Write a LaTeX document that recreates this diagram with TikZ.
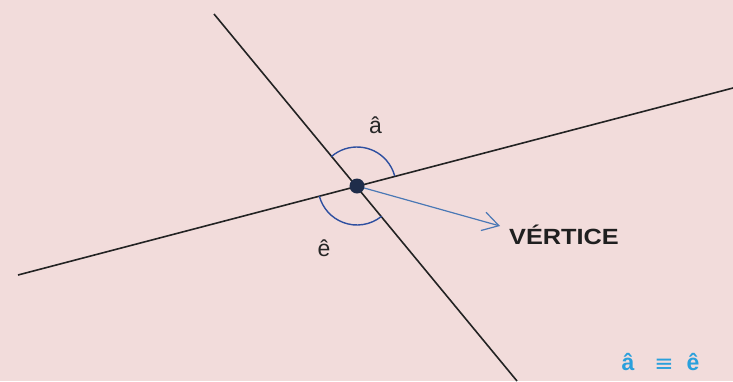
\documentclass[tikz,border=0pt]{standalone}
\usepackage{fontspec}
\setmainfont{Liberation Sans}
\newfontfamily\symfont{DejaVu Sans}
\usetikzlibrary{arrows.meta}
\definecolor{bgpink}{HTML}{F2DCDB}
\definecolor{linegray}{HTML}{232323}
\definecolor{arcblue}{HTML}{2E4FA0}
\definecolor{arrowblue}{HTML}{4A78B5}
\definecolor{dotnavy}{HTML}{1F2D4A}
\definecolor{lightblue}{HTML}{2AA0DC}
\tikzset{
  mainline/.style={draw=linegray, line width=1.6pt},
  anglearc/.style={draw=arcblue, line width=1.4pt},
  pointer/.style={draw=arrowblue, line width=1.2pt, -{Straight Barb[length=16pt,width=19pt]}},
  anglelabel/.style={font=\fontsize{23}{23}\selectfont, text=black!85, inner sep=0pt},
  eqlabel/.style={font=\fontsize{23}{23}\selectfont\bfseries, text=lightblue, inner sep=0pt}
}
\begin{document}
\begin{tikzpicture}[x=1pt,y=-1pt]
\useasboundingbox (0,0) rectangle (733,381);
\fill[bgpink] (0,0) rectangle (733,381);
\coordinate (L1a) at (214,14);
\coordinate (L1b) at (517,381);
\coordinate (L2a) at (18,275);
\coordinate (L2b) at (733,88);
\coordinate (V) at (357,186);
\draw[mainline] (L1a) -- (L1b);
\draw[mainline] (L2a) -- (L2b);
\draw[anglearc] (V) ++(-131:39) arc[start angle=-131, end angle=-15, radius=39];
\draw[anglearc] (V) ++(51:39) arc[start angle=51, end angle=165, radius=39];
\node[anchor=west, font=\fontsize{22}{22}\selectfont\bfseries, text=black!88, inner sep=0pt] (vert) at (509,235) {\scalebox{1.15}[1]{VÉRTICE}};
\coordinate (tip) at (500,226);
\draw[pointer] (V) -- (tip);
\fill[dotnavy] (V) circle[radius=7.5];
\node[anglelabel] (a) at (375.5,125) {â};
\node[anglelabel] (e) at (324,248) {ê};
\node[eqlabel] (a2) at (628,362) {â};
\node[font=\fontsize{23}{23}\selectfont\symfont, text=lightblue, inner sep=0pt] (eq) at (664,365) {≡};
\node[eqlabel] (e2) at (693,362) {ê};
\end{tikzpicture}
\end{document}
